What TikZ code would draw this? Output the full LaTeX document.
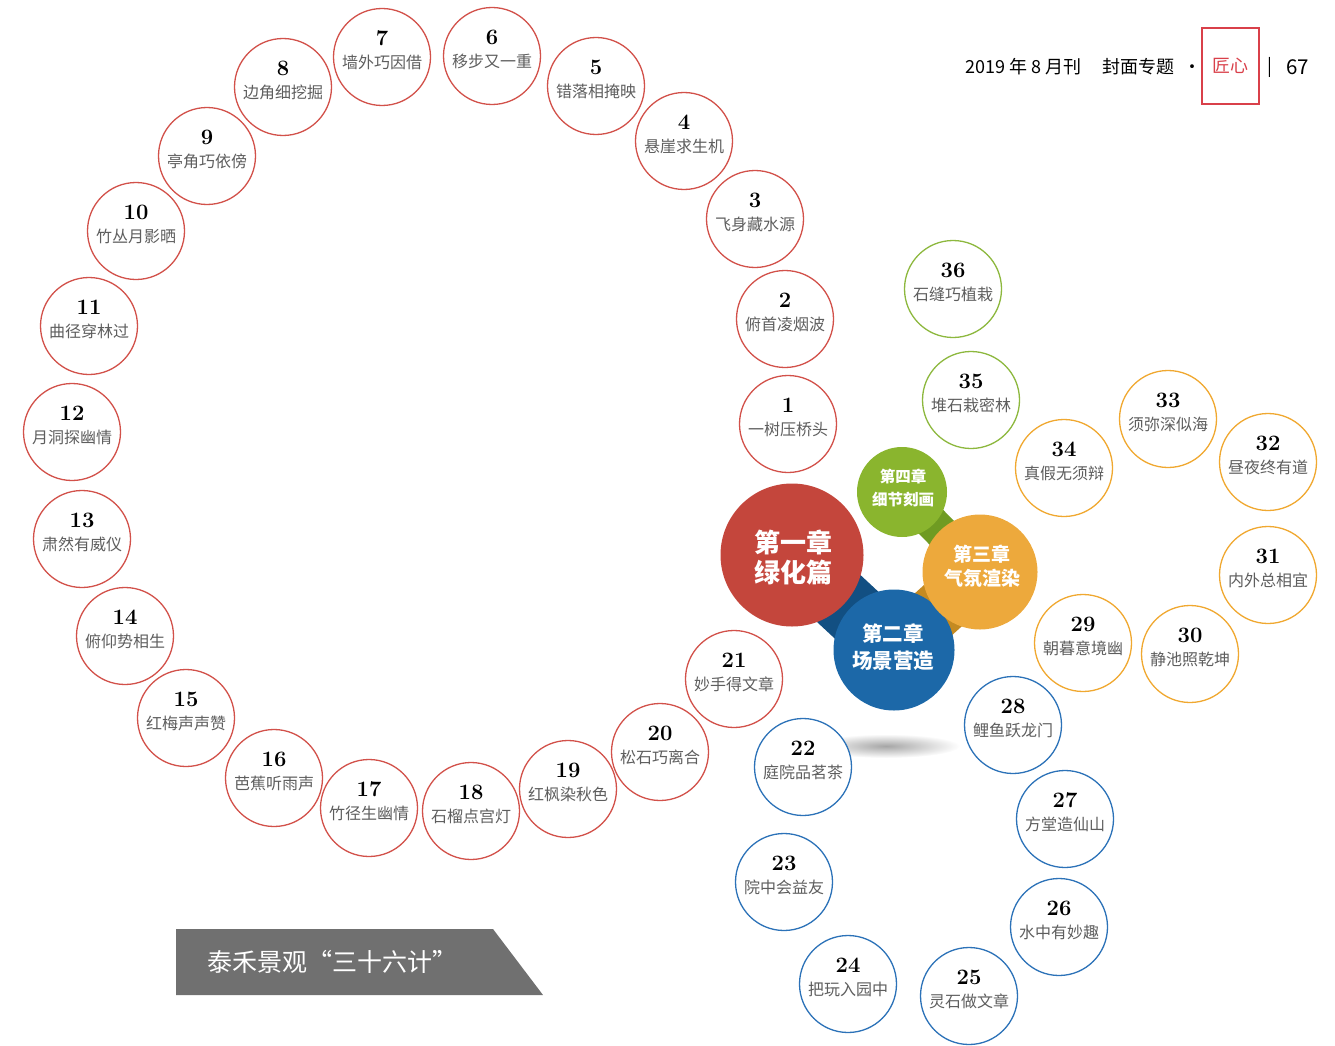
\documentclass[tikz,border=0pt]{standalone}
\usepackage{fontspec}
\newfontfamily\cjk{Noto Sans CJK SC}
\definecolor{cred}{HTML}{D2514A}
\definecolor{cblue}{HTML}{2C72B8}
\definecolor{corange}{HTML}{F0A830}
\definecolor{cgreen}{HTML}{8DB83E}
\definecolor{fred}{HTML}{C4463C}
\definecolor{fblue}{HTML}{1C68A8}
\definecolor{forange}{HTML}{EDA93C}
\definecolor{fgreen}{HTML}{8AB52E}
\definecolor{nblue}{HTML}{124F82}
\definecolor{ngold}{HTML}{C48A22}
\definecolor{ngreen}{HTML}{6F9B22}
\definecolor{labgray}{HTML}{5E5E5E}
\definecolor{bannergray}{HTML}{707070}
\definecolor{boxred}{HTML}{D9404A}
\newcommand\circitem[5]{%
  \node[ring=#2] (t#1) at (#3,#4) {};
  \node[numtxt] (n#1) at ([yshift=19pt]t#1.center) {#1};
  \node[labtxt] (l#1) at ([yshift=-5pt]t#1.center) {#5};
}
\begin{document}
\begin{tikzpicture}[x=1pt,y=-1pt,
  ring/.style={circle, draw=#1, line width=1.3pt, fill=white, minimum size=97pt, inner sep=0pt},
  numtxt/.style={font=\bfseries\fontsize{22}{22}\selectfont, text=black, inner sep=0pt},
  labtxt/.style={font=\cjk\fontsize{16}{16}\selectfont, text=labgray, inner sep=0pt},
  chap/.style={circle, fill=#1, inner sep=0pt},
  chaptxt/.style={text=white, align=center, inner sep=0pt},
  neck/.style={line width=#1, line cap=butt},
  hdr/.style={font=\cjk\fontsize{18}{18}\selectfont, text=black, inner sep=0pt, anchor=west},
]
\useasboundingbox (0,0) rectangle (1335,1046);

% header
\node[hdr] (h1) at (965,67) {2019 年 8 月刊};
\node[hdr] (h2) at (1102,67) {封面专题};
\node[hdr, anchor=center] (h3) at (1192,69) {·};
\node[draw=boxred, line width=1.2pt, minimum width=57pt, minimum height=76pt, inner sep=0pt,
      font=\cjk\fontsize{18}{18}\selectfont, text=boxred] (box) at (1230.5,66) {匠心};
\node[hdr, anchor=center] (h4) at (1270,67) {|};
\node[hdr, font=\cjk\fontsize{20.5}{20.5}\selectfont] (h5) at (1286,67) {67};

% banner
\fill[bannergray] (176,929) -- (493,929) -- (543,995) -- (176,995) -- cycle;
\node[font=\cjk\fontsize{25}{25}\selectfont, text=white, anchor=west, inner sep=0pt] (banner) at (207,962) {泰禾景观“三十六计”};

% shadow under the chapter group
\shade[inner color=black!35, outer color=white] (886,746) ellipse (74 and 12);

% chapter group
\coordinate (cR) at (792,555);
\coordinate (cB) at (894,650);
\coordinate (cO) at (980,572);
\coordinate (cG) at (902,492);
\draw[neck=64pt, nblue] (cR) -- (cB);
\draw[neck=56pt, ngold] (cO) -- (cB);
\draw[neck=34pt, ngreen] (cG) -- (cO);
\node[chap=fblue, minimum size=121pt] (ch2) at (cB) {};
\node[chap=fred, minimum size=143pt] (ch1) at (cR) {};
\node[chap=fgreen, minimum size=90pt] (ch4) at (cG) {};
\node[chap=forange, minimum size=115pt] (ch3) at (cO) {};
\node[chaptxt, font=\cjk\bfseries\fontsize{26}{30}\selectfont] (t1) at (793,558) {第一章\\绿化篇};
\node[chaptxt, font=\cjk\bfseries\fontsize{20.5}{27}\selectfont] (t2) at (893,647) {第二章\\场景营造};
\node[chaptxt, font=\cjk\bfseries\fontsize{19}{23.5}\selectfont] (t3) at (982,566) {第三章\\气氛渲染};
\node[chaptxt, font=\cjk\bfseries\fontsize{15.5}{23}\selectfont] (t4) at (903,488) {第四章\\细节刻画};

% numbered circles
\circitem{1}{cred}{788}{424}{一树压桥头}
\circitem{2}{cred}{785}{319}{俯首凌烟波}
\circitem{3}{cred}{755}{219}{飞身藏水源}
\circitem{4}{cred}{684}{141}{悬崖求生机}
\circitem{5}{cred}{596}{86}{错落相掩映}
\circitem{6}{cred}{492}{56}{移步又一重}
\circitem{7}{cred}{382}{57}{墙外巧因借}
\circitem{8}{cred}{283}{87}{边角细挖掘}
\circitem{9}{cred}{207}{156}{亭角巧依傍}
\circitem{10}{cred}{136}{231}{竹丛月影晒}
\circitem{11}{cred}{89}{326}{曲径穿林过}
\circitem{12}{cred}{72}{432}{月洞探幽情}
\circitem{13}{cred}{82}{539}{肃然有威仪}
\circitem{14}{cred}{125}{636}{俯仰势相生}
\circitem{15}{cred}{186}{718}{红梅声声赞}
\circitem{16}{cred}{274}{778}{芭蕉听雨声}
\circitem{17}{cred}{369}{808}{竹径生幽情}
\circitem{18}{cred}{471}{811}{石榴点宫灯}
\circitem{19}{cred}{568}{789}{红枫染秋色}
\circitem{20}{cred}{660}{752}{松石巧离合}
\circitem{21}{cred}{734}{679}{妙手得文章}
\circitem{22}{cblue}{803}{767}{庭院品茗茶}
\circitem{23}{cblue}{784}{882}{院中会益友}
\circitem{24}{cblue}{848}{984}{把玩入园中}
\circitem{25}{cblue}{969}{996}{灵石做文章}
\circitem{26}{cblue}{1059}{927}{水中有妙趣}
\circitem{27}{cblue}{1065}{819}{方堂造仙山}
\circitem{28}{cblue}{1013}{725}{鲤鱼跃龙门}
\circitem{29}{corange}{1083}{643}{朝暮意境幽}
\circitem{30}{corange}{1190}{654}{静池照乾坤}
\circitem{31}{corange}{1268}{575}{内外总相宜}
\circitem{32}{corange}{1268}{462}{昼夜终有道}
\circitem{33}{corange}{1168}{419}{须弥深似海}
\circitem{34}{corange}{1064}{468}{真假无须辩}
\circitem{35}{cgreen}{971}{400}{堆石栽密林}
\circitem{36}{cgreen}{953}{289}{石缝巧植栽}
\end{tikzpicture}
\end{document}
